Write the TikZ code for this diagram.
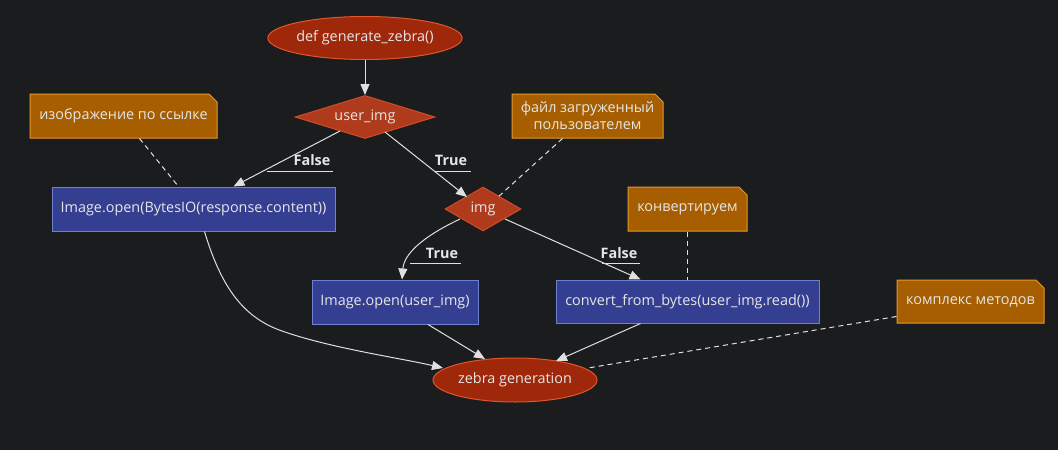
\documentclass[tikz,border=0pt]{standalone}
\usepackage{fontspec}
\setmainfont{Open Sans}
\usetikzlibrary{shapes.geometric,shapes.misc,arrows.meta}
\definecolor{bg}{HTML}{1B1C1E}
\definecolor{ellfill}{HTML}{A0280A}
\definecolor{elldraw}{HTML}{E0562C}
\definecolor{diafill}{HTML}{B03B1C}
\definecolor{diadraw}{HTML}{CF4B2A}
\definecolor{boxfill}{HTML}{343F91}
\definecolor{boxdraw}{HTML}{6C82CE}
\definecolor{notefill}{HTML}{A65E00}
\definecolor{notedraw}{HTML}{E39B2B}
\definecolor{txt}{HTML}{E6E6E6}
\definecolor{edge}{HTML}{E0E0E0}
\tikzset{
  base/.style={inner sep=0pt, text=txt, font=\fontsize{14.4}{17}\selectfont, line width=1pt, align=center},
  ellnode/.style={base, ellipse, fill=ellfill, draw=elldraw},
  dianode/.style={base, diamond, fill=diafill, draw=diadraw},
  boxnode/.style={base, rectangle, fill=boxfill, draw=boxdraw},
  notenode/.style={base, chamfered rectangle, chamfered rectangle corners=north east, chamfered rectangle xsep=4pt, chamfered rectangle ysep=4pt, fill=notefill, draw=notedraw},
  flow/.style={draw=edge, line width=1pt, -{Triangle[length=11pt,width=9pt]}},
  notelink/.style={draw=edge, line width=1pt, dash pattern=on 5pt off 4pt},
  lbl/.style={text=txt, font=\fontsize{14.4}{17}\selectfont\bfseries, inner sep=0pt},
  uline/.style={draw=edge, line width=1pt}
}
\begin{document}
\begin{tikzpicture}[x=1pt,y=-1pt]
\fill[bg] (0,0) rectangle (1058,450);
\useasboundingbox (0,0) rectangle (1058,450);

\node[ellnode, minimum width=194pt, minimum height=43pt] (start) at (365,38) {def generate\_zebra()};
\node[dianode, aspect=3.26, minimum width=140pt, minimum height=43pt] (uimg) at (365,117) {user\_img};
\node[dianode, aspect=1.73, minimum width=76pt, minimum height=44pt] (img) at (483,209) {img};
\node[boxnode, minimum width=283pt, minimum height=44pt] (bytes) at (193.5,209) {Image.open(BytesIO(response.content))};
\node[boxnode, minimum width=166pt, minimum height=44pt] (iopen) at (395,302) {Image.open(user\_img)};
\node[boxnode, minimum width=263pt, minimum height=43pt] (conv) at (687.5,301.5) {convert\_from\_bytes(user\_img.read())};
\node[ellnode, minimum width=164pt, minimum height=44pt] (zebra) at (515,380) {zebra generation};

\node[notenode, minimum width=187pt, minimum height=44pt] (n1) at (123.5,116) {изображение по ссылке};
\node[notenode, minimum width=151pt, minimum height=44pt] (n2) at (587.5,116) {файл загруженный\\пользователем};
\node[notenode, minimum width=119pt, minimum height=44pt] (n3) at (687.5,209) {конвертируем};
\node[notenode, minimum width=147pt, minimum height=43pt] (n4) at (970.5,301.5) {комплекс методов};

% flow edges
\draw[flow] (start) -- (uimg);
\draw[flow] ([xshift=-25pt,yshift=-14pt]uimg.center) -- ([xshift=40pt]bytes.north);
\draw[flow] ([xshift=20pt,yshift=-15pt]uimg.center) -- ([xshift=-16pt,yshift=12pt]img.center);
\draw[flow] ([xshift=-23pt,yshift=-10pt]img.center) .. controls (420,238) and (404,255) .. ([xshift=7pt]iopen.north);
\draw[flow] ([xshift=22pt,yshift=-10pt]img.center) -- ([xshift=-47pt]conv.north);
\draw[flow] ([xshift=11pt]bytes.south) .. controls (222,290) and (245,318) .. (282,331) .. controls (330,348) and (400,358) .. ([xshift=-72pt,yshift=12pt]zebra.center);
\draw[flow] ([xshift=33pt]iopen.south) -- ([xshift=-30pt,yshift=21pt]zebra.center);
\draw[flow] ([xshift=-47pt]conv.south) -- ([xshift=41pt,yshift=19pt]zebra.center);

% labels
\node[lbl] (l1) at (312,160) {False};
\draw[uline] (267,171) -- (333,171);
\node[lbl] (l2) at (451,160) {True};
\draw[uline] (435,171) -- (471,171);
\node[lbl] (l3) at (442,253) {True};
\draw[uline] (410,263) -- (461,263);
\node[lbl] (l4) at (619,253) {False};
\draw[uline] (602,263) -- (640,263);

% note links
\draw[notelink] ([xshift=16pt]n1.south) -- ([xshift=-15pt]bytes.north);
\draw[notelink] ([xshift=-25pt]n2.south) -- ([xshift=15pt,yshift=12pt]img.center);
\draw[notelink] (n3.south) -- (conv.north);
\draw[notelink] ([yshift=-15pt]n4.west) -- ([xshift=73pt,yshift=12pt]zebra.center);
\end{tikzpicture}
\end{document}
